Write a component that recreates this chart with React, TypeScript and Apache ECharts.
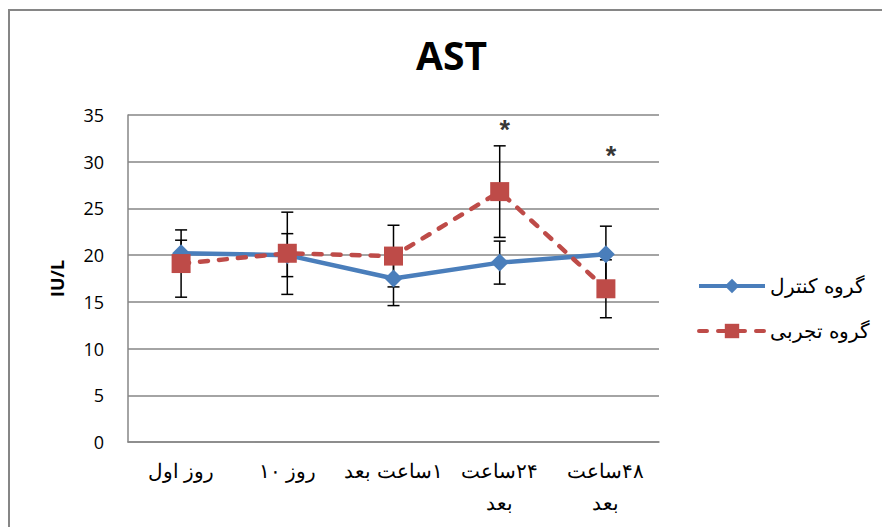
import React, { useEffect, useRef } from "react";
import * as echarts from "echarts";

const RLM = "\u200F";
const categories = [
  "روز اول",
  RLM + "روز ۱۰",
  RLM + "۱ساعت بعد",
  RLM + "۲۴ساعت\nبعد",
  RLM + "۴۸ساعت\nبعد",
];
const controlName = "گروه کنترل";
const expName = "گروه تجربی";
const controlMean = [20.2, 20.0, 17.5, 19.2, 20.1];
const controlSd = [1.4, 2.3, 2.9, 2.3, 3.0];
const expMean = [19.1, 20.2, 19.9, 26.8, 16.4];
const expSd = [3.6, 4.4, 3.3, 4.9, 3.1];
const starPoints = [
  [3, 33.3],
  [4, 30.5],
];
const yMin = 0;
const yMax = 35;
const yStep = 5;

export default function App() {
  const ref = useRef<HTMLDivElement>(null);
  useEffect(() => {
    document.body.style.margin = "0";
    if (!ref.current) return;
    const chart = echarts.init(ref.current, undefined, { renderer: "svg" });
    const errData = [
      ...controlMean.map((m, i) => [i, m, controlSd[i]]),
      ...expMean.map((m, i) => [i, m, expSd[i]]),
    ];
    chart.setOption({
      animation: false,
      backgroundColor: "#fff",
      graphic: [
        {
          type: "rect",
          z: -10,
          shape: { x: 9, y: 10, width: 900, height: 600 },
          style: { fill: "none", stroke: "#868686", lineWidth: 2 },
        },
      ],
      title: {
        text: "AST",
        left: 411,
        top: 30,
        textStyle: { fontFamily: "Open Sans", fontWeight: "bold", fontSize: 39, color: "#000" },
      },
      legend: {
        orient: "vertical",
        left: 692,
        top: 271,
        itemWidth: 66,
        itemHeight: 18,
        itemGap: 25,
        data: [controlName, expName],
        lineStyle: { width: 4 },
        textStyle: { fontSize: 20, color: "#000", fontFamily: "Liberation Sans" },
      },
      grid: { left: 128, right: 223, top: 115, bottom: 85, containLabel: false },
      xAxis: {
        type: "category",
        data: categories,
        boundaryGap: true,
        axisLine: { lineStyle: { color: "#868686", width: 1.5 } },
        axisTick: { show: false },
        axisLabel: {
          interval: 0,
          fontSize: 20,
          lineHeight: 32,
          color: "#000",
          margin: 13,
          fontFamily: "Liberation Sans",
        },
      },
      yAxis: {
        type: "value",
        min: yMin,
        max: yMax,
        interval: yStep,
        name: "IU/L",
        nameLocation: "middle",
        nameGap: 62,
        nameTextStyle: { fontSize: 18, fontWeight: "bold", color: "#000", fontFamily: "Open Sans" },
        axisLine: { show: true, lineStyle: { color: "#868686", width: 1.5 } },
        axisTick: { show: false },
        splitLine: { lineStyle: { color: "#868686", width: 1.5 } },
        axisLabel: { fontSize: 18, color: "#000", margin: 24, fontFamily: "Open Sans" },
      },
      series: [
        {
          type: "custom",
          name: "err",
          z: 1,
          data: errData,
          renderItem: (params: any, api: any) => {
            const x = api.value(0);
            const m = api.value(1);
            const s = api.value(2);
            const top = api.coord([x, m + s]);
            const bot = api.coord([x, m - s]);
            const hw = 6;
            const st = { stroke: "#000", lineWidth: 1.5 };
            return {
              type: "group",
              children: [
                { type: "line", shape: { x1: top[0], y1: top[1], x2: bot[0], y2: bot[1] }, style: st },
                { type: "line", shape: { x1: top[0] - hw, y1: top[1], x2: top[0] + hw, y2: top[1] }, style: st },
                { type: "line", shape: { x1: bot[0] - hw, y1: bot[1], x2: bot[0] + hw, y2: bot[1] }, style: st },
              ],
            };
          },
        },
        {
          type: "line",
          name: controlName,
          z: 3,
          data: controlMean,
          symbol: "diamond",
          symbolSize: 18,
          color: "#4A7EBB",
          lineStyle: { width: 4.5, color: "#4A7EBB" },
          itemStyle: { color: "#4A7EBB" },
        },
        {
          type: "line",
          name: expName,
          z: 4,
          data: expMean,
          symbol: "rect",
          symbolSize: 19,
          color: "#BE4B48",
          lineStyle: { width: 4.5, color: "#BE4B48", type: [8, 11], cap: "round" },
          itemStyle: { color: "#BE4B48" },
        },
        {
          type: "scatter",
          name: "stars",
          z: 5,
          data: starPoints,
          symbolSize: 2,
          itemStyle: { color: "rgba(0,0,0,0)" },
          label: {
            show: true,
            position: "inside",
            formatter: "*",
            fontSize: 27,
            fontWeight: "bold",
            color: "#000",
            offset: [5, -1],
            fontFamily: "Liberation Sans",
          },
        },
      ],
    });
    return () => chart.dispose();
  }, []);
  return <div ref={ref} style={{ width: 882, height: 527 }} />;
}
